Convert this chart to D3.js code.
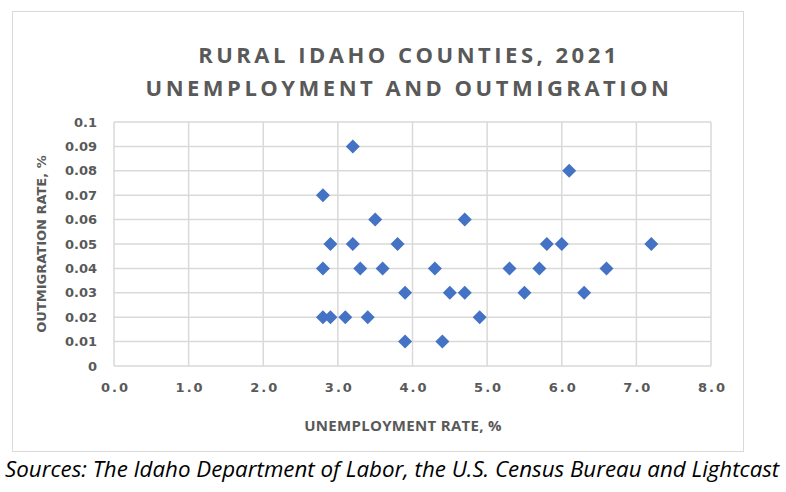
<!DOCTYPE html>
<html>
<head>
<meta charset="utf-8">
<script src="https://cdn.jsdelivr.net/npm/d3@7"></script>
<style>
  html, body { margin: 0; padding: 0; background: #fff; }
  svg { display: block; }
</style>
</head>
<body>
<svg id="chart" width="786" height="492"></svg>
<script>
// Data (unemployment rate %, outmigration rate %)
const unemployment = [2.8, 3.2, 2.9, 3.2, 2.8, 3.3, 2.8, 2.9, 3.1, 3.5, 4.7, 3.8, 5.8, 6.0, 7.2, 3.6, 4.3, 5.3, 5.7, 6.6, 3.9, 4.5, 4.7, 5.5, 6.3, 3.4, 4.9, 3.9, 4.4, 6.1];
const outmigration = [0.07, 0.09, 0.05, 0.05, 0.04, 0.04, 0.02, 0.02, 0.02, 0.06, 0.06, 0.05, 0.05, 0.05, 0.05, 0.04, 0.04, 0.04, 0.04, 0.04, 0.03, 0.03, 0.03, 0.03, 0.03, 0.02, 0.02, 0.01, 0.01, 0.08];
const xTicks = [0, 1, 2, 3, 4, 5, 6, 7, 8];
const yTicks = [0, 0.01, 0.02, 0.03, 0.04, 0.05, 0.06, 0.07, 0.08, 0.09, 0.1];
const titleLines = ["RURAL IDAHO COUNTIES, 2021", "UNEMPLOYMENT AND OUTMIGRATION"];
const xTitle = "UNEMPLOYMENT RATE, %";
const yTitle = "OUTMIGRATION RATE, %";
const sourceText = "Sources: The Idaho Department of Labor, the U.S. Census Bureau and Lightcast";

(function () {
const points = unemployment.map((u, i) => ({ x: u, y: outmigration[i] }));

const svg = d3.select("#chart");
const grey = "#595959";
const gridColor = "#d9d9d9";

// chart frame
svg.append("rect")
  .attr("x", 12.5).attr("y", 11.5).attr("width", 731).attr("height", 440)
  .attr("fill", "#fff").attr("stroke", gridColor).attr("stroke-width", 1);

const pl = 114, pr = 711, pt = 122, pb = 366;
const x = d3.scaleLinear().domain([0, 8]).range([pl, pr]);
const y = d3.scaleLinear().domain([0, 0.1]).range([pb, pt]);

// gridlines
const grid = svg.append("g");
grid.selectAll("line.h").data(yTicks).join("line").attr("class", "h")
  .attr("x1", pl).attr("x2", pr)
  .attr("y1", d => y(d)).attr("y2", d => y(d))
  .attr("stroke", gridColor).attr("stroke-width", 1.5);
grid.selectAll("line.v").data(xTicks).join("line").attr("class", "v")
  .attr("y1", pt).attr("y2", pb)
  .attr("x1", d => x(d)).attr("x2", d => x(d))
  .attr("stroke", gridColor).attr("stroke-width", 1.5);

// Y axis labels
const yAxis = d3.axisLeft(y).tickValues(yTicks).tickSize(0).tickPadding(0)
  .tickFormat(d => d === 0 ? "0" : String(+d.toFixed(2)));
const yg = svg.append("g").attr("transform", `translate(${pl - 17},0)`).call(yAxis);
yg.select(".domain").remove();
yg.selectAll("text")
  .attr("font-family", "DejaVu Sans").attr("font-weight", "bold")
  .attr("font-size", 13).attr("fill", grey);

// X axis labels
const xAxis = d3.axisBottom(x).tickValues(xTicks).tickSize(0).tickPadding(0)
  .tickFormat(d3.format(".1f"));
const xg = svg.append("g").attr("transform", `translate(0,${pb + 17})`).call(xAxis);
xg.select(".domain").remove();
xg.selectAll("text")
  .attr("font-family", "DejaVu Sans").attr("font-weight", "bold")
  .attr("font-size", 13).attr("fill", grey)
  .attr("letter-spacing", "2px").attr("dx", "1px");

// points
svg.append("g").selectAll("path").data(points).join("path")
  .attr("transform", d => `translate(${x(d.x)},${y(d.y)})`)
  .attr("d", "M0,-7L7,0L0,7L-7,0Z")
  .attr("fill", "#4472C4");

// title
svg.append("g").selectAll("text").data(titleLines).join("text")
  .attr("x", 409).attr("y", (d, i) => 63 + i * 33)
  .attr("text-anchor", "middle")
  .attr("font-family", "Open Sans").attr("font-weight", "bold")
  .attr("font-size", 22).attr("letter-spacing", "3.5px")
  .attr("fill", grey).text(d => d);

// axis titles
svg.append("text")
  .attr("x", 403).attr("y", 431).attr("text-anchor", "middle")
  .attr("font-family", "Open Sans").attr("font-weight", "bold")
  .attr("font-size", 15).attr("letter-spacing", "0.3px")
  .attr("fill", grey).text(xTitle);

svg.append("text")
  .attr("transform", "translate(46,244) rotate(-90)")
  .attr("text-anchor", "middle")
  .attr("font-family", "DejaVu Sans").attr("font-weight", "bold")
  .attr("font-size", 13).attr("fill", grey).text(yTitle);

// sources
svg.append("text")
  .attr("x", 5).attr("y", 477)
  .attr("font-family", "Open Sans").attr("font-style", "italic")
  .attr("font-size", 22.3).attr("fill", "#000").text(sourceText);
})();
</script>
</body>
</html>
